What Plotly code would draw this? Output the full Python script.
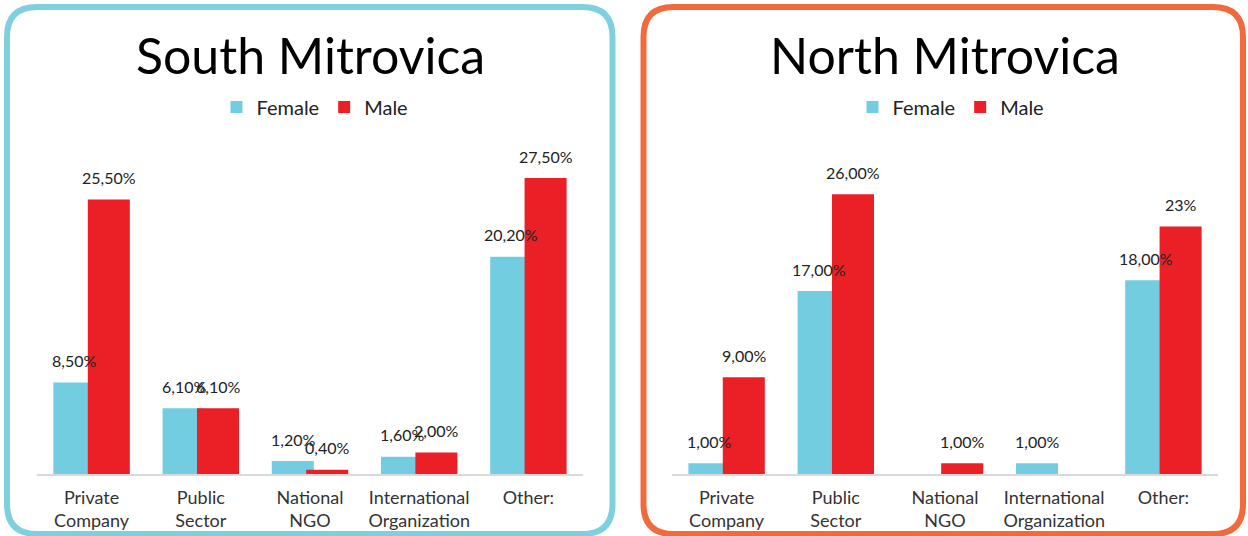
import plotly.graph_objects as go

W, H = 1248, 536

categories = ["Private<br>Company", "Public<br>Sector", "National<br>NGO",
              "International<br>Organization", "Other:"]

south_female = [8.5, 6.1, 1.2, 1.6, 20.2]
south_male = [25.5, 6.1, 0.4, 2.0, 27.5]
south_female_text = ["8,50%", "6,10%", "1,20%", "1,60%", "20,20%"]
south_male_text = ["25,50%", "6,10%", "0,40%", "2,00%", "27,50%"]

north_female = [1.0, 17.0, 0.0, 1.0, 18.0]
north_male = [9.0, 26.0, 1.0, 0.0, 23.0]
north_female_text = ["1,00%", "17,00%", "", "1,00%", "18,00%"]
north_male_text = ["9,00%", "26,00%", "1,00%", "", "23%"]

BLUE = "#73cde0"
RED = "#eb2026"
FONT = "Lato"
BAR_W = 0.385
F_OFF, M_OFF = -0.35, -0.035


def px(x, y):
    return x / W, 1 - y / H


def rounded_path(x0, y0, x1, y1, r):
    pts = []
    a = px(x0 + r, y0); pts.append(f"M {a[0]},{a[1]}")
    a = px(x1 - r, y0); pts.append(f"L {a[0]},{a[1]}")
    c = px(x1, y0); e = px(x1, y0 + r); pts.append(f"Q {c[0]},{c[1]} {e[0]},{e[1]}")
    a = px(x1, y1 - r); pts.append(f"L {a[0]},{a[1]}")
    c = px(x1, y1); e = px(x1 - r, y1); pts.append(f"Q {c[0]},{c[1]} {e[0]},{e[1]}")
    a = px(x0 + r, y1); pts.append(f"L {a[0]},{a[1]}")
    c = px(x0, y1); e = px(x0, y1 - r); pts.append(f"Q {c[0]},{c[1]} {e[0]},{e[1]}")
    a = px(x0, y0 + r); pts.append(f"L {a[0]},{a[1]}")
    c = px(x0, y0); e = px(x0 + r, y0); pts.append(f"Q {c[0]},{c[1]} {e[0]},{e[1]}")
    return " ".join(pts) + " Z"


fig = go.Figure()

panels = [
    ("x", "y", "legend", south_female, south_male, south_female_text, south_male_text),
    ("x2", "y2", "legend2", north_female, north_male, north_female_text, north_male_text),
]

annotations = []
for xa, ya, lg, fem, mal, ftxt, mtxt in panels:
    fig.add_trace(go.Bar(x=categories, y=fem, name="Female", marker_color=BLUE,
                         width=BAR_W, offset=F_OFF, xaxis=xa, yaxis=ya, legend=lg,
                         marker_line_width=0))
    fig.add_trace(go.Bar(x=categories, y=mal, name="Male", marker_color=RED,
                         width=BAR_W, offset=M_OFF, xaxis=xa, yaxis=ya, legend=lg,
                         marker_line_width=0))
    for vals, txts, off in ((fem, ftxt, F_OFF), (mal, mtxt, M_OFF)):
        for i, (v, t) in enumerate(zip(vals, txts)):
            if not t:
                continue
            annotations.append(dict(x=i + off + BAR_W / 2, y=v, xref=xa, yref=ya,
                                    text=t, showarrow=False, yshift=22,
                                    font=dict(family=FONT, size=16, color="#222222")))

for label, cx in (("South Mitrovica", 310), ("North Mitrovica", 945)):
    annotations.append(dict(x=cx / W, y=1 - 55 / H, xref="paper", yref="paper",
                            xanchor="center", yanchor="middle",
                            text=label, showarrow=False,
                            font=dict(family=FONT, size=50, color="#000000")))

axis_x = dict(showline=True, linecolor="#d9d9d9", linewidth=2, showgrid=False,
              ticks="", tickfont=dict(family=FONT, size=18, color="#333333"),
              ticklabelstandoff=6, fixedrange=True)
axis_y = dict(range=[0, 30], visible=False, showgrid=False, fixedrange=True,
              domain=[1 - 474 / H, 1 - 151.2 / H])

legend_style = dict(orientation="h", xanchor="center", yanchor="middle",
                    font=dict(family=FONT, size=20, color="#222222"),
                    bgcolor="rgba(0,0,0,0)", itemwidth=30)

fig.update_layout(
    width=W, height=H,
    margin=dict(l=0, r=0, t=0, b=0),
    paper_bgcolor="white", plot_bgcolor="white",
    barmode="overlay",
    xaxis=dict(axis_x, domain=[37 / W, 583 / W], anchor="y"),
    xaxis2=dict(axis_x, domain=[672 / W, 1218 / W], anchor="y2"),
    yaxis=dict(axis_y, anchor="x"),
    yaxis2=dict(axis_y, anchor="x2"),
    legend=dict(legend_style, x=315 / W, y=1 - 107 / H),
    legend2=dict(legend_style, x=951 / W, y=1 - 107 / H),
    annotations=annotations,
    shapes=[
        dict(type="path", xref="paper", yref="paper", layer="below",
             path=rounded_path(7, 7, 612.5, 534, 30),
             line=dict(color="#7ed0e1", width=6)),
        dict(type="path", xref="paper", yref="paper", layer="below",
             path=rounded_path(643.5, 7, 1243, 534, 30),
             line=dict(color="#f26a3c", width=6)),
    ],
)

fig.write_html("out.html", config={"displayModeBar": False},
               post_script="document.body.style.margin='0';")
